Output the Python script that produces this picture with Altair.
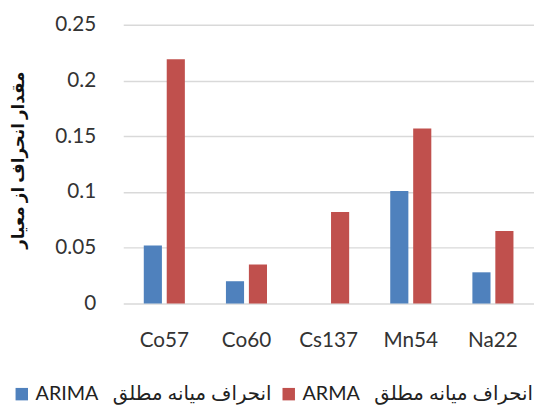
import altair as alt
import pandas as pd

categories = ["Co57", "Co60", "Cs137", "Mn54", "Na22"]
series = ["ARIMA\u00a0\u00a0 انحراف میانه مطلق", "ARMA\u00a0\u00a0 انحراف میانه مطلق"]
arima_values = [0.052, 0.020, 0.0, 0.101, 0.028]
arma_values = [0.219, 0.035, 0.082, 0.157, 0.065]
y_ticks = [0, 0.05, 0.1, 0.15, 0.2, 0.25]
colors = ["#4F81BD", "#C0504D"]

rows = []
for c, a, b in zip(categories, arima_values, arma_values):
    rows.append({"cat": c, "series": series[0], "value": a})
    rows.append({"cat": c, "series": series[1], "value": b})
df = pd.DataFrame(rows)

FONT = "Lato, DejaVu Sans"

chart = alt.Chart(df).mark_bar().encode(
    x=alt.X(
        "cat:N",
        sort=categories,
        scale=alt.Scale(paddingInner=0.5, paddingOuter=0.25),
        axis=alt.Axis(
            title=None, labelAngle=0, ticks=False, tickSize=0, domain=False,
            labelFontSize=21, labelFont=FONT, labelColor="#333333",
            labelPadding=27, labelBaseline="top",
        ),
    ),
    xOffset=alt.XOffset("series:N", sort=series, scale=alt.Scale(paddingInner=0.21)),
    y=alt.Y(
        "value:Q",
        scale=alt.Scale(domain=[0, 0.25]),
        axis=alt.Axis(
            values=y_ticks, format=".2~f", ticks=False, tickSize=0, domain=False,
            grid=True, gridColor="#D9D9D9", gridWidth=1.5,
            labelFontSize=21, labelFont=FONT, labelColor="#333333", labelPadding=28,
            title="مقدار انحراف از معیار", titleFont=FONT, titleFontSize=17,
            titleFontWeight="bold", titleColor="#111111",
            titleX=-106, titleY=137, titleAngle=270, titleAlign="center",
            titleBaseline="middle", titleLimit=0,
        ),
    ),
    color=alt.Color(
        "series:N",
        sort=series,
        scale=alt.Scale(domain=series, range=colors),
        legend=alt.Legend(
            title=None, orient="none", legendX=-113, legendY=365,
            direction="horizontal", symbolType="square", symbolSize=160,
            symbolStrokeWidth=0, labelFontSize=20, labelFont=FONT,
            labelColor="#222222", labelOffset=4, columnPadding=7, padding=0,
            labelLimit=0,
        ),
    ),
).properties(
    width=417,
    height=283,
    autosize=alt.AutoSizeParams(type="none"),
    padding={"left": 117, "top": 14, "right": 0, "bottom": 101},
).configure_view(stroke=None)

chart.save("out.html", embed_options={"renderer": "svg", "actions": False})
